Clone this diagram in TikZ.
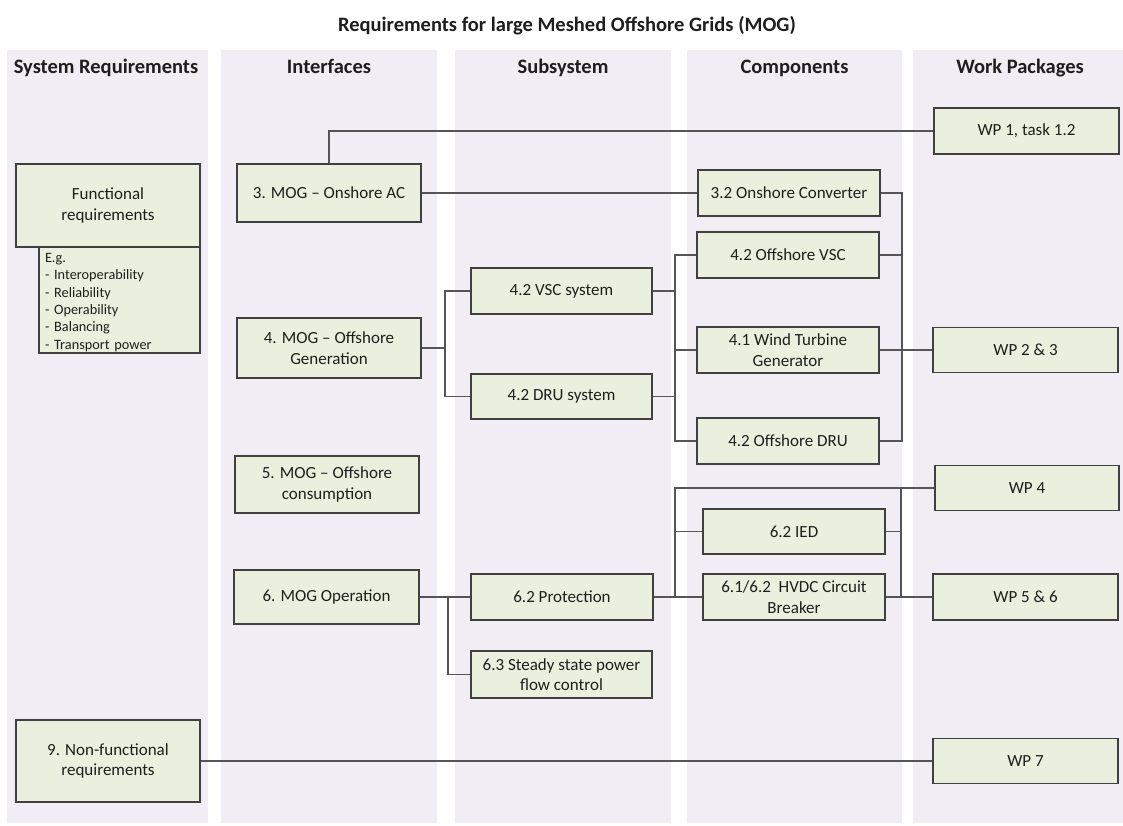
\documentclass[tikz,border=0pt]{standalone}
\usepackage{fontspec}
\setmainfont{Carlito}
\definecolor{lanefill}{RGB}{240,238,244}
\definecolor{boxfill}{RGB}{235,240,222}
\definecolor{boxline}{RGB}{64,64,64}
\definecolor{wirecol}{RGB}{85,85,85}
\definecolor{txt}{RGB}{30,30,30}
\tikzset{
  lane/.style={fill=lanefill, draw=none},
  head/.style={font=\fontsize{20.5}{24}\selectfont\bfseries, text=txt,
    text height=15pt, text depth=5pt},
  box/.style={draw=boxline, fill=boxfill, line width=1.3pt, align=center,
    text=txt, font=\fontsize{17}{20.7}\selectfont, inner sep=2pt},
  wire/.style={draw=wirecol, line width=1.2pt},
}
\begin{document}
\begin{tikzpicture}[x=1pt,y=-1pt]
\useasboundingbox (0,0) rectangle (1123,825);
\fill[white] (0,0) rectangle (1123,825);

% swim lanes
\fill[lane] (7,50) rectangle (208,823);
\fill[lane] (221,50) rectangle (437,823);
\fill[lane] (455,50) rectangle (671,823);
\fill[lane] (687,50) rectangle (902,823);
\fill[lane] (913,50) rectangle (1123,823);

\node[font=\fontsize{20.5}{24}\selectfont\bfseries, text=txt] (title) at (567,26)
  {Requirements for large Meshed Offshore Grids (MOG)};
\node[head] (h1) at (106,68) {System Requirements};
\node[head] (h2) at (329,68) {Interfaces};
\node[head] (h3) at (563,68) {Subsystem};
\node[head] (h4) at (794.5,68) {Components};
\node[head] (h5) at (1020,68) {Work Packages};

% system requirements
\node[box, align=left, text width=149pt, inner xsep=6pt, inner ysep=0pt,
  minimum height=107pt, font=\fontsize{14.3}{17.4}\selectfont] (frx) at (119.5,299.5)
  {\rule{0pt}{15pt}E.g.\\- Interoperability\\- Reliability\\- Operability\\- Balancing\\- Transport power};
\node[box, minimum width=184pt, minimum height=83pt] (fr) at (108,205.5)
  {Functional\\requirements};
\node[box, minimum width=184pt, minimum height=82pt] (nfr) at (108,761)
  {9. Non-functional\\requirements};

% interfaces
\node[box, minimum width=184pt, minimum height=58pt] (oac) at (329,193) {3. MOG – Onshore AC};
\node[box, minimum width=184pt, minimum height=60pt] (ogen) at (329,348) {4. MOG – Offshore\\Generation};
\node[box, minimum width=184pt, minimum height=57pt] (ocons) at (327,484.5) {5. MOG – Offshore\\consumption};
\node[box, minimum width=185pt, minimum height=54pt] (oop) at (326.5,597) {6. MOG Operation};

% subsystems
\node[box, minimum width=181pt, minimum height=46pt] (vscs) at (561.5,291) {4.2 VSC system};
\node[box, minimum width=181pt, minimum height=45pt] (drus) at (561.5,396.5) {4.2 DRU system};
\node[box, minimum width=182pt, minimum height=46pt] (prot) at (562,597) {6.2 Protection};
\node[box, minimum width=181pt, minimum height=47pt] (ssp) at (561.5,674.5) {6.3 Steady state power\\flow control};

% components
\node[box, minimum width=182pt, minimum height=46pt] (onc) at (789,193) {3.2 Onshore Converter};
\node[box, minimum width=182pt, minimum height=46pt] (ovsc) at (788,255) {4.2 Offshore VSC};
\node[box, minimum width=182pt, minimum height=46pt] (wtg) at (788,350) {4.1 Wind Turbine\\Generator};
\node[box, minimum width=182pt, minimum height=46pt] (odru) at (788,441) {4.2 Offshore DRU};
\node[box, minimum width=182pt, minimum height=45pt] (ied) at (794,531.5) {6.2 IED};
\node[box, minimum width=182pt, minimum height=46pt] (hvdc) at (794,597) {6.1/6.2\ \ HVDC Circuit\\Breaker};

% work packages
\node[box, minimum width=185pt, minimum height=46pt] (wp1) at (1026.5,131) {WP 1, task 1.2};
\node[box, minimum width=185pt, minimum height=45pt] (wp23) at (1025.5,350) {WP 2 \& 3};
\node[box, minimum width=184pt, minimum height=45pt] (wp4) at (1027,488) {WP 4};
\node[box, minimum width=185pt, minimum height=46pt] (wp56) at (1025.5,597) {WP 5 \& 6};
\node[box, minimum width=185pt, minimum height=45pt] (wp7) at (1025.5,761) {WP 7};

% bus positions
\coordinate (gb) at (445,0);
\coordinate (sb) at (675,0);
\coordinate (cb) at (902,0);
\coordinate (ob) at (448,0);
\coordinate (pbt) at (675,488);
\coordinate (rb) at (901,0);

% onshore AC
\draw[wire] (oac.north) |- (wp1.west);
\draw[wire] (oac.east) -- (onc.west);

% offshore generation tree
\draw[wire] (ogen.east) -- (ogen.east -| gb);
\draw[wire] (vscs.west) -- (vscs.west -| gb) -- (drus.west -| gb) -- (drus.west);
\draw[wire] (vscs.east) -- (vscs.east -| sb);
\draw[wire] (drus.east) -- (drus.east -| sb);
\draw[wire] (ovsc.west) -- (ovsc.west -| sb) -- (odru.west -| sb) -- (odru.west);
\draw[wire] (wtg.west) -- (wtg.west -| sb);
\draw[wire] (onc.east) -- (onc.east -| cb) -- (odru.east -| cb) -- (odru.east);
\draw[wire] (ovsc.east) -- (ovsc.east -| cb);
\draw[wire] (wtg.east) -- (wp23.west);

% operation tree
\draw[wire] (oop.east) -- (prot.west);
\draw[wire] (prot.west -| ob) -- (ssp.west -| ob) -- (ssp.west);
\draw[wire] (prot.east) -- (hvdc.west);
\draw[wire] (prot.east -| pbt) -- (pbt) -- (wp4.west);
\draw[wire] (ied.west) -- (ied.west -| pbt);
\draw[wire] (wp4.west -| rb) -- (hvdc.east -| rb);
\draw[wire] (ied.east) -- (ied.east -| rb);
\draw[wire] (hvdc.east) -- (wp56.west);

% non-functional
\draw[wire] (nfr.east) -- (wp7.west);
\end{tikzpicture}
\end{document}
